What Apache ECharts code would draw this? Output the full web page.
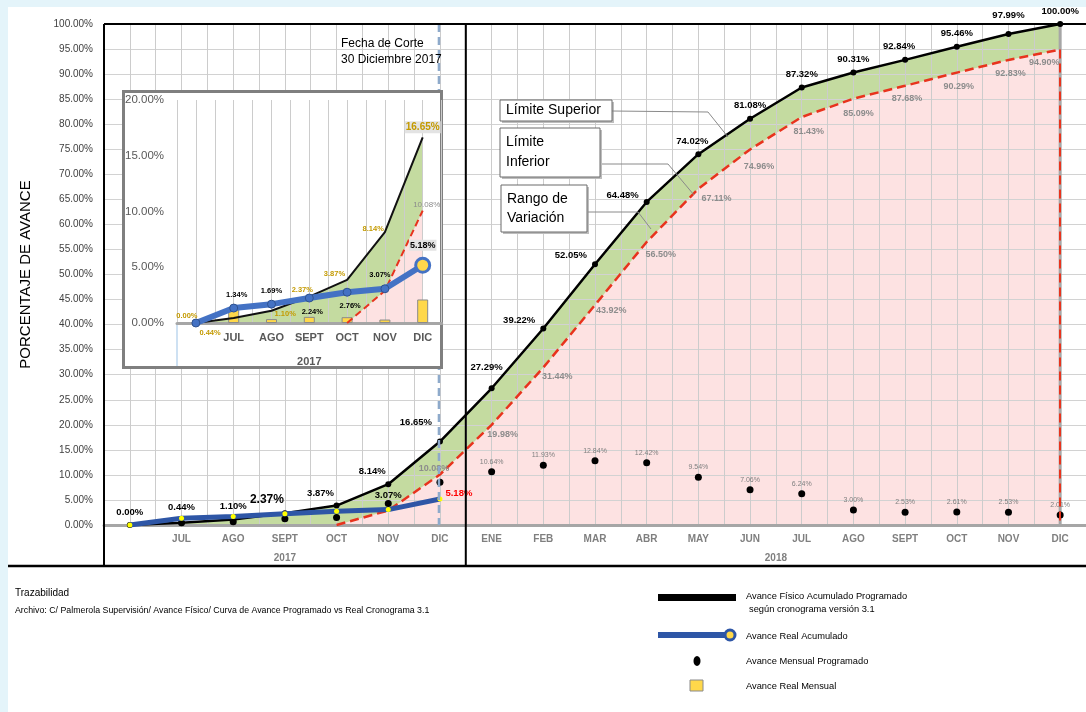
<!DOCTYPE html>
<html><head><meta charset="utf-8">
<script src="https://cdn.jsdelivr.net/npm/echarts/dist/echarts.min.js"></script>
<style>
html,body{margin:0;padding:0;background:#e4f4fa;}
#bg{position:absolute;left:8px;top:7px;right:0;bottom:0;background:#fff;}
#c{position:absolute;left:0;top:0;width:1086px;height:712px;}
</style>
</head><body><div id="bg"></div><div id="c"></div>
<script>
// ---------------- DATA ----------------
const months = ['', 'JUL','AGO','SEPT','OCT','NOV','DIC','ENE','FEB','MAR','ABR','MAY','JUN','JUL','AGO','SEPT','OCT','NOV','DIC'];
const insetMonths = ['', 'JUL','AGO','SEPT','OCT','NOV','DIC'];
const years = ['2017', '2018'];
const programadoAcum = [0.00,0.44,1.10,2.37,3.87,8.14,16.65,27.29,39.22,52.05,64.48,74.02,81.08,87.32,90.31,92.84,95.46,97.99,100.00];
const limiteInferior = [null,null,null,null,0.00,2.90,10.08,19.98,31.44,43.92,56.50,67.11,74.96,81.43,85.09,87.68,90.29,92.83,94.90];
const realAcum = [0.00,1.34,1.69,2.24,2.76,3.07,5.18];
const mensualProg = [null,0.44,0.66,1.27,1.50,4.27,8.51,10.64,11.93,12.84,12.42,9.54,7.06,6.24,3.00,2.53,2.61,2.53,2.01];
const realMensual = [null,1.34,0.35,0.55,0.52,0.31,2.11];
const yMainTicks = {min:0, max:100, step:5};
const yInsetTicks = {min:0, max:20, step:5};

// ---------------- STYLE ----------------
const SANS = '"Liberation Sans",Arial,sans-serif';
const pct = v => (typeof v === 'object' && v !== null ? v.value : v).toFixed(2) + '%';
const GREEN = '#c4dba0', PINK = '#fde2e2', RED = '#e8331d', BLUE_MAIN = '#2e56a6', BLUE_IN = '#4472c4', YELLOW = '#ffd84a';

const progLab = {
  0:{position:'top'},1:{position:'top',offset:[0,-2]},2:{position:'top'},
  3:{position:'top',offset:[-18,1],fontSize:12},4:{position:'top',offset:[-16,1]},
  5:{position:'top',offset:[-16,0]},6:{position:'top',offset:[-24,-6]},
  7:{position:'top',offset:[-5,-8]},8:{position:'left',offset:[0,-8]},
  9:{position:'left',offset:[0,-9]},10:{position:'left',offset:[0,-7]},
  11:{position:'top',offset:[-6,0]},12:{position:'top'},13:{position:'top'},
  14:{position:'top'},15:{position:'top',offset:[-6,0]},16:{position:'top'},
  17:{position:'top',offset:[0,-6]},18:{position:'top',offset:[0,0]}
};
const infLab = {
  6:{position:'top',offset:[-6,4]},7:{position:'bottom',offset:[11,0]},8:{position:'bottom',offset:[14,-1]},
  9:{position:'right',offset:[-4,6]},10:{position:'bottom',offset:[14,3]},11:{position:'right',offset:[-2,10]},
  12:{position:'bottom',offset:[9,8]},13:{position:'bottom',offset:[7,5]},14:{position:'bottom',offset:[5,5]},
  15:{position:'bottom',offset:[2,3]},16:{position:'bottom',offset:[2,4]},17:{position:'bottom',offset:[2,4]},
  18:{position:'bottom',offset:[-16,3]}
};
const realLab = {
  5:{position:'top',offset:[0,-2],color:'#000'},
  6:{position:'right',offset:[-2,-6],color:'#ff0000'}
};
const progLabIn = {
  0:{position:'top',offset:[-9,2]},1:{position:'left',offset:[-8,15]},2:{position:'right',offset:[-2,3]},
  3:{position:'top',offset:[-7,2]},4:{position:'left',offset:[3,-6]},5:{position:'left',offset:[4,-3]},
  6:{position:'top',offset:[0,1],fontSize:10,backgroundColor:'#e3e3e3',padding:[1,1]}
};
const realLabIn = {
  1:{position:'top',offset:[3,0]},2:{position:'top'},3:{position:'bottom',offset:[3,0]},
  4:{position:'bottom',offset:[3,0]},5:{position:'top',offset:[-5,0]},
  6:{position:'top',offset:[0,-1],fontSize:9,backgroundColor:'#e3e3e3',padding:[1,1]}
};

function withLabels(values, cfg, base, extra) {
  return values.map((v, i) => {
    if (v === null) return null;
    const item = {value: v};
    if (cfg && cfg[i]) item.label = Object.assign({show:true}, base, cfg[i]);
    else item.label = {show:false};
    if (extra && extra[i]) Object.assign(item, extra[i]);
    return item;
  });
}

const chart = echarts.init(document.getElementById('c'), null, {renderer:'canvas'});

const hiddenVal = (grid, max, z) => ({
  type:'value', gridIndex:grid, min:-0.5, max:max, interval:0.5, z:z, position:'top',
  axisLine:{show:false}, axisTick:{show:false}, axisLabel:{show:false},
  splitLine:{show:true, lineStyle:{color:'#cccccc', width:1}}
});

const option = {
  backgroundColor:'transparent',
  animation:false,
  grid:[
    {left:104, top:24, width:989, height:501},
    {left:177, top:100, width:264.6, height:223}
  ],
  xAxis:[
    {type:'category', gridIndex:0, data:months, boundaryGap:true, z:2,
     axisLine:{lineStyle:{color:'#a6a6a6', width:3}}, axisTick:{show:false},
     axisLabel:{color:'#7f7f7f', fontWeight:'bold', fontSize:10, fontFamily:SANS, margin:9, interval:0},
     splitLine:{show:false}},
    hiddenVal(0, 18.5, 2),
    {type:'category', gridIndex:1, data:insetMonths, boundaryGap:true, z:12,
     axisLine:{lineStyle:{color:'#a6a6a6', width:3}}, axisTick:{show:false},
     axisLabel:{color:'#595959', fontWeight:'bold', fontSize:11, fontFamily:SANS, margin:9, interval:0},
     splitLine:{show:false}},
    hiddenVal(1, 6.5, 12)
  ],
  yAxis:[
    {type:'value', gridIndex:0, min:yMainTicks.min, max:yMainTicks.max, interval:yMainTicks.step, z:2,
     axisLine:{show:false}, axisTick:{show:false},
     axisLabel:{formatter:v=>v.toFixed(2)+'%', color:'#404040', fontSize:10, fontFamily:SANS, margin:11},
     splitLine:{lineStyle:{color:'#d2d2d2', width:1}},
     name:'PORCENTAJE DE AVANCE', nameLocation:'middle', nameGap:71, nameRotate:90,
     nameTextStyle:{fontSize:15, color:'#000', fontFamily:SANS}},
    {type:'value', gridIndex:1, min:yInsetTicks.min, max:yInsetTicks.max, interval:yInsetTicks.step, z:12,
     axisLine:{show:false}, axisTick:{show:false},
     axisLabel:{formatter:v=>v.toFixed(2)+'%', color:'#595959', fontSize:11.5, fontFamily:SANS, margin:13},
     splitLine:{show:false}}
  ],
  series:[
    {name:'Límite Superior (área)', type:'line', xAxisIndex:0, yAxisIndex:0, data:programadoAcum, z:1,
     symbol:'none', lineStyle:{width:0}, areaStyle:{color:GREEN, opacity:1}, silent:true},
    {name:'Límite Inferior (área)', type:'line', xAxisIndex:0, yAxisIndex:0, data:limiteInferior, z:1,
     symbol:'none', lineStyle:{width:0}, areaStyle:{color:PINK, opacity:1}, silent:true},
    {name:'Límite Inferior', type:'line', xAxisIndex:0, yAxisIndex:0, z:3,
     data:withLabels(limiteInferior, infLab, {color:'#8c8c8c', fontWeight:'bold', fontSize:9, fontFamily:SANS, formatter:p=>pct(p.value)}),
     symbol:'circle', symbolSize:0.1, itemStyle:{color:'transparent'},
     lineStyle:{color:RED, width:2.5, type:[9,5]},
     markLine:{silent:true, symbol:'none', label:{show:false}, lineStyle:{color:RED, width:2, type:[9,5]},
       data:[[{coord:[18, limiteInferior[18]]},{coord:[18, 0]}]]}},
    {name:'Avance Físico Acumulado Programado', type:'line', xAxisIndex:0, yAxisIndex:0, z:3,
     data:withLabels(programadoAcum, progLab, {color:'#000', fontWeight:'bold', fontSize:9.5, fontFamily:SANS, formatter:p=>pct(p.value)}),
     symbol:'circle', symbolSize:6, itemStyle:{color:'#000'}, lineStyle:{color:'#000', width:2.5}},
    {name:'Avance Mensual Programado', type:'scatter', xAxisIndex:0, yAxisIndex:0, z:3,
     data:mensualProg.map((v,i)=> v===null ? null : {value:v, label:{show:i>=7}}),
     symbolSize:7, itemStyle:{color:'#000', opacity:1},
     label:{position:'top', distance:3, color:'#808080', fontSize:7, fontFamily:SANS, formatter:p=>pct(p.value)}},
    {name:'Avance Real Acumulado', type:'line', xAxisIndex:0, yAxisIndex:0, z:4,
     data:withLabels(realAcum, realLab, {fontWeight:'bold', fontSize:9.5, fontFamily:SANS, formatter:p=>pct(p.value)}),
     symbol:'circle', symbolSize:5, itemStyle:{color:'#ffff00', borderWidth:0},
     lineStyle:{color:BLUE_MAIN, width:5}},

    {name:'in-sup-area', type:'line', xAxisIndex:2, yAxisIndex:1, data:programadoAcum.slice(0,7), z:11,
     symbol:'none', lineStyle:{width:0}, areaStyle:{color:GREEN, opacity:1}, silent:true},
    {name:'in-inf-area', type:'line', xAxisIndex:2, yAxisIndex:1, data:limiteInferior.slice(0,7), z:11,
     symbol:'none', lineStyle:{width:0}, areaStyle:{color:PINK, opacity:1}, silent:true},
    {name:'in-real-mensual', type:'bar', xAxisIndex:2, yAxisIndex:1, data:realMensual, z:12,
     barWidth:11, itemStyle:{color:YELLOW, borderColor:'#8a8a8a', borderWidth:1}},
    {name:'in-inf', type:'line', xAxisIndex:2, yAxisIndex:1, z:13,
     data:withLabels(limiteInferior.slice(0,7), {6:{position:'top',offset:[4,3]}}, {color:'#8c8c8c', fontSize:8, fontFamily:SANS, formatter:p=>pct(p.value)}),
     symbol:'circle', symbolSize:0.1, itemStyle:{color:'transparent'},
     lineStyle:{color:RED, width:2, type:[7,4]},
     markLine:{silent:true, symbol:'none', label:{show:false}, lineStyle:{color:RED, width:2, type:[7,4]},
       data:[[{coord:[6, limiteInferior[6]]},{coord:[6, 0]}]]}},
    {name:'in-prog', type:'line', xAxisIndex:2, yAxisIndex:1, z:13,
     data:withLabels(programadoAcum.slice(0,7), progLabIn, {color:'#c49a00', fontWeight:'bold', fontSize:7.5, fontFamily:SANS, formatter:p=>pct(p.value)}),
     symbol:'circle', symbolSize:0.1, itemStyle:{color:'transparent'}, lineStyle:{color:'#111', width:2}},
    {name:'in-real', type:'line', xAxisIndex:2, yAxisIndex:1, z:14,
     data:withLabels(realAcum, realLabIn, {color:'#000', fontWeight:'bold', fontSize:7.5, fontFamily:SANS, formatter:p=>pct(p.value)},
       {6:{symbolSize:14, itemStyle:{color:YELLOW, borderColor:BLUE_IN, borderWidth:3}}}),
     symbol:'circle', symbolSize:8, itemStyle:{color:BLUE_IN, borderColor:'#2f528f', borderWidth:1},
     lineStyle:{color:BLUE_IN, width:6}}
  ]
};
chart.setOption(option);

const X = i => chart.convertToPixel({xAxisIndex:1}, i);
const Y = v => chart.convertToPixel({yAxisIndex:0}, v);
const XI = i => chart.convertToPixel({xAxisIndex:3}, i);
const YI = v => chart.convertToPixel({yAxisIndex:1}, v);
const yTop = Y(100), yBase = Y(0);
const bottomLine = 566;

function txt(text, x, y, opt) {
  return {type:'text', z:(opt && opt.z) || 20, silent:true,
    style:Object.assign({text:text, x:x, y:y, fill:'#000', fontSize:10, fontFamily:SANS,
      align:'left', verticalAlign:'middle', textAlign:'left', textVerticalAlign:'middle'}, opt || {})};
}
function ln(x1,y1,x2,y2,stroke,w,z,dash) {
  const s = {stroke:stroke, lineWidth:w};
  if (dash) s.lineDash = dash;
  return {type:'line', z:z, silent:true, shape:{x1:x1,y1:y1,x2:x2,y2:y2}, style:s};
}
function callout(x,y,w,h,text,lh) {
  return [
    {type:'rect', z:20, silent:true, shape:{x:x+2,y:y+2,width:w,height:h}, style:{fill:'#bdbdbd'}},
    {type:'rect', z:21, silent:true, shape:{x:x,y:y,width:w,height:h}, style:{fill:'#fff', stroke:'#6b6b6b', lineWidth:1}},
    {type:'text', z:22, silent:true, style:{text:text, x:x+6, y:y+h/2, fill:'#000', fontSize:14, fontFamily:SANS,
      lineHeight:lh, align:'left', verticalAlign:'middle', textAlign:'left', textVerticalAlign:'middle'}}
  ];
}

const g = [];
g.push(ln(X(-0.5), yTop, 1086, yTop, '#000', 2, 6));
g.push(ln(X(-0.5), yTop, X(-0.5), bottomLine, '#000', 2, 6));
g.push(ln(8, bottomLine, 1086, bottomLine, '#000', 2.5, 6));
g.push(ln(X(6.5), yTop, X(6.5), bottomLine, '#000', 2, 6));
g.push(ln(X(18), yTop, X(18), yBase + 1, '#a6a6a6', 3, 2));
g.push(ln(X(6) - 1, yTop, X(6) - 1, yBase, '#8eaacb', 2.5, 5, [8,5]));
g.push(txt('Fecha de Corte', 341, 44, {fontSize:12, z:6}));
g.push(txt('30 Diciembre 2017', 341, 60, {fontSize:12, z:6}));
g.push(txt(years[0], X(3), 558, {fontSize:10, fontWeight:'bold', fill:'#7f7f7f', align:'center', textAlign:'center'}));
g.push(txt(years[1], X(12.5), 558, {fontSize:10, fontWeight:'bold', fill:'#7f7f7f', align:'center', textAlign:'center'}));
g.push({type:'rect', z:10, silent:true, shape:{x:123.5, y:91.5, width:318, height:276}, style:{fill:'#fff', stroke:'#7f7f7f', lineWidth:3}});
g.push(ln(XI(-0.5), YI(0), XI(-0.5), 366, '#9dc3e6', 1, 11));
g.push(txt(years[0], XI(3), 362, {fontSize:11, fontWeight:'bold', fill:'#595959', align:'center', textAlign:'center', z:13}));
callout(500,100,112,21,'Límite Superior',16).forEach(e=>g.push(e));
callout(500,128,100,49,'Límite\nInferior',20).forEach(e=>g.push(e));
callout(501,185,86,47,'Rango de\nVariación',19).forEach(e=>g.push(e));
g.push({type:'polyline', z:20, silent:true, shape:{points:[[612,111],[708,112],[728,137]]}, style:{stroke:'#8a8a8a', lineWidth:1, fill:null}});
g.push({type:'polyline', z:20, silent:true, shape:{points:[[602,164],[668,164],[694,195]]}, style:{stroke:'#8a8a8a', lineWidth:1, fill:null}});
g.push({type:'polyline', z:20, silent:true, shape:{points:[[588,212],[638,212],[651,229]]}, style:{stroke:'#8a8a8a', lineWidth:1, fill:null}});
g.push(txt('Trazabilidad', 15, 593, {fontSize:10}));
g.push(txt('Archivo: C/ Palmerola Supervisión/ Avance Físico/ Curva de Avance Programado vs Real Cronograma 3.1', 15, 611, {fontSize:8.8}));
g.push({type:'rect', z:20, silent:true, shape:{x:658, y:594, width:78, height:7}, style:{fill:'#000'}});
g.push(txt('Avance Físico Acumulado Programado', 746, 596, {fontSize:9.3}));
g.push(txt('según cronograma versión 3.1', 749, 609, {fontSize:9.3}));
g.push(ln(658, 635, 728, 635, BLUE_MAIN, 6, 20));
g.push({type:'circle', z:21, silent:true, shape:{cx:730, cy:635, r:5}, style:{fill:YELLOW, stroke:BLUE_MAIN, lineWidth:3}});
g.push(txt('Avance Real Acumulado', 746, 636, {fontSize:9.3}));
g.push({type:'ellipse', z:20, silent:true, shape:{cx:697, cy:661, rx:3.5, ry:5}, style:{fill:'#000'}});
g.push(txt('Avance Mensual Programado', 746, 661, {fontSize:9.3}));
g.push({type:'rect', z:20, silent:true, shape:{x:690, y:680, width:13, height:11}, style:{fill:YELLOW, stroke:'#8a8a8a', lineWidth:1}});
g.push(txt('Avance Real Mensual', 746, 686, {fontSize:9.3}));

chart.setOption({graphic:g});
</script>
</body></html>
